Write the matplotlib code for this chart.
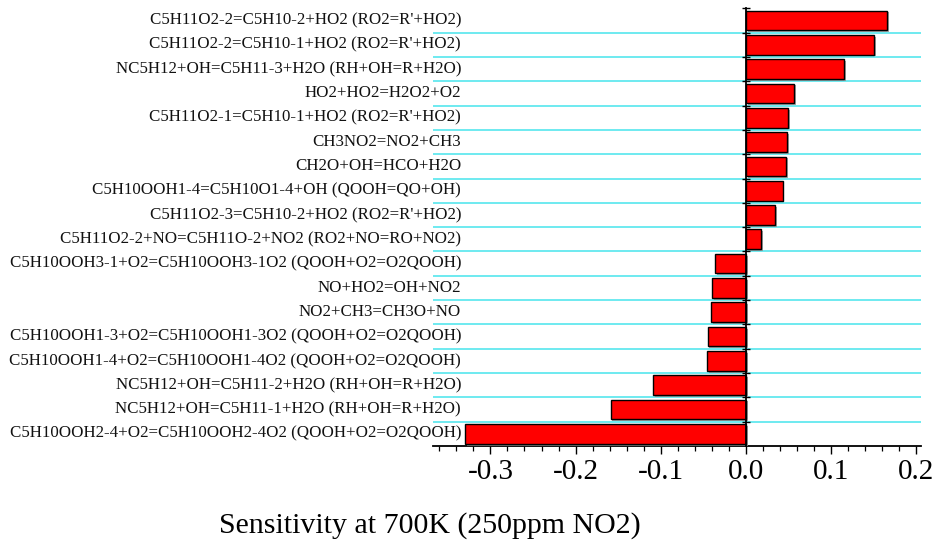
import numpy as np
import matplotlib
matplotlib.use('Agg')
import matplotlib.pyplot as plt
import matplotlib.patheffects as pe
from matplotlib.ticker import MultipleLocator

# reactions, top to bottom
reactions = [
    "C5H11O2-2=C5H10-2+HO2 (RO2=R'+HO2)",
    "C5H11O2-2=C5H10-1+HO2 (RO2=R'+HO2)",
    "NC5H12+OH=C5H11-3+H2O (RH+OH=R+H2O)",
    "HO2+HO2=H2O2+O2",
    "C5H11O2-1=C5H10-1+HO2 (RO2=R'+HO2)",
    "CH3NO2=NO2+CH3",
    "CH2O+OH=HCO+H2O",
    "C5H10OOH1-4=C5H10O1-4+OH (QOOH=QO+OH)",
    "C5H11O2-3=C5H10-2+HO2 (RO2=R'+HO2)",
    "C5H11O2-2+NO=C5H11O-2+NO2 (RO2+NO=RO+NO2)",
    "C5H10OOH3-1+O2=C5H10OOH3-1O2 (QOOH+O2=O2QOOH)",
    "NO+HO2=OH+NO2",
    "NO2+CH3=CH3O+NO",
    "C5H10OOH1-3+O2=C5H10OOH1-3O2 (QOOH+O2=O2QOOH)",
    "C5H10OOH1-4+O2=C5H10OOH1-4O2 (QOOH+O2=O2QOOH)",
    "NC5H12+OH=C5H11-2+H2O (RH+OH=R+H2O)",
    "NC5H12+OH=C5H11-1+H2O (RH+OH=R+H2O)",
    "C5H10OOH2-4+O2=C5H10OOH2-4O2 (QOOH+O2=O2QOOH)",
]
sensitivity = [0.166, 0.150, 0.115, 0.056, 0.049, 0.048, 0.047, 0.043, 0.034,
               0.018, -0.036, -0.040, -0.041, -0.045, -0.046, -0.109, -0.159, -0.330]

plt.rcParams['font.family'] = ['Liberation Serif', 'DejaVu Serif']
plt.rcParams['axes.unicode_minus'] = False

fig = plt.figure(figsize=(9.38, 5.42), dpi=100)
ax = fig.add_axes([0.4613, 0.1771, 0.5206, 0.8076])

n = len(reactions)
y = np.arange(n)
bars = ax.barh(y, sensitivity, height=0.81, color='#ff0000', edgecolor='black',
               linewidth=1.0, zorder=3)
for b in bars:
    b.set_path_effects([pe.SimplePatchShadow(offset=(1.3, -1.3), shadow_rgbFace='0.55', alpha=0.8),
                        pe.Normal()])

# cyan separators between rows
for k in range(n - 1):
    ax.axhline(k + 0.5, color='#55e6ee', linewidth=1.2, zorder=1)

ax.set_ylim(n - 0.5, -0.5)
ax.set_xlim(-0.3677, 0.2054)

# reaction labels
trans = ax.get_yaxis_transform()
for yi, name in zip(y, reactions):
    ax.text(0.058, yi, name, transform=trans, ha='right', va='center',
            fontsize=12.2, color='#111111')

# spines
for s in ['top', 'right']:
    ax.spines[s].set_visible(False)
ax.spines['left'].set_position(('data', 0))
ax.spines['left'].set_linewidth(1.3)
ax.spines['bottom'].set_linewidth(1.3)
ax.spines['left'].set_zorder(4)

ax.set_yticks(np.arange(n) - 0.5)
ax.set_yticklabels([])
ax.tick_params(axis='y', direction='inout', length=6, width=1.0)

ax.xaxis.set_major_locator(MultipleLocator(0.1))
ax.xaxis.set_minor_locator(MultipleLocator(0.02))
ax.set_xticks([-0.3, -0.2, -0.1, 0.0, 0.1, 0.2])
ax.set_xticklabels(['-0.3', '-0.2', '-0.1', '0.0', '0.1', '0.2'])
ax.tick_params(axis='x', which='major', direction='out', length=6, width=1.0,
               labelsize=21, pad=3)
ax.tick_params(axis='x', which='minor', direction='out', length=3.5, width=0.9)

fig.text(0.458, 0.017, 'Sensitivity at 700K (250ppm NO2)', ha='center',
         va='baseline', fontsize=21.5)

fig.savefig('out.png', dpi=100)
